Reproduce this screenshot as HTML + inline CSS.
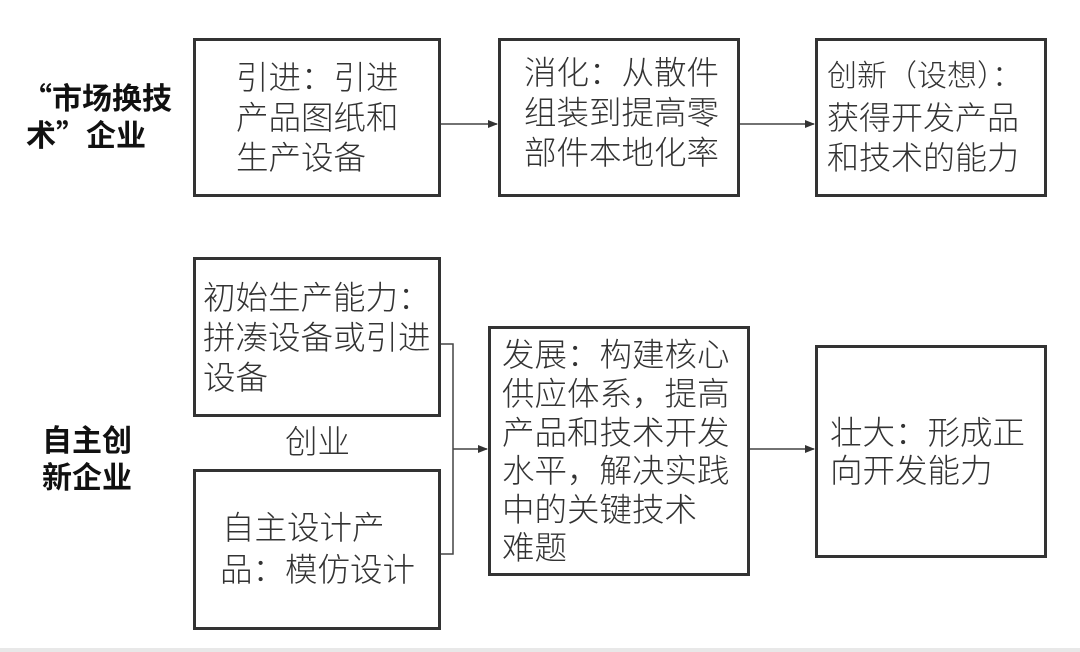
<!DOCTYPE html>
<html><head><meta charset="utf-8"><style>
body{margin:0;width:1080px;height:652px;background:#fff;position:relative;overflow:hidden;font-family:"Liberation Sans","Noto Sans CJK SC",sans-serif;}
.b{position:absolute;border:3px solid #333;box-sizing:border-box;}
.t{position:absolute;white-space:nowrap;font-size:32.5px;line-height:40px;color:#333;font-weight:300;}
.l{position:absolute;white-space:nowrap;font-size:30px;line-height:38px;color:#111;font-weight:bold;font-family:"Noto Sans CJK SC",sans-serif;}
.strip{position:absolute;left:0;top:648px;width:1080px;height:4px;background:#e8e8e8;}
</style></head><body>
<div class="b" style="left:193px;top:38px;width:248px;height:159px"></div>
<div class="b" style="left:498px;top:38px;width:242px;height:159px"></div>
<div class="b" style="left:815px;top:38px;width:232px;height:159px"></div>
<div class="b" style="left:193px;top:257px;width:248px;height:160px"></div>
<div class="b" style="left:193px;top:469px;width:248px;height:161px"></div>
<div class="b" style="left:488px;top:326px;width:262px;height:250px"></div>
<div class="b" style="left:815px;top:345px;width:232px;height:213px"></div>

<svg style="position:absolute;left:0;top:0" width="1080" height="652">
<defs><marker id="a" markerWidth="10" markerHeight="8" refX="9" refY="4" orient="auto" markerUnits="userSpaceOnUse"><path d="M0,0 L10,4 L0,8 z" fill="#333"/></marker></defs>
<g stroke="#444" stroke-width="1.5" fill="none">
<line x1="441" y1="124" x2="497" y2="124" marker-end="url(#a)"/>
<line x1="740" y1="124" x2="814" y2="124" marker-end="url(#a)"/>
<polyline points="441,344 453,344 453,554 441,554"/>
<line x1="453" y1="449" x2="487" y2="449" marker-end="url(#a)"/>
<line x1="750" y1="449" x2="814" y2="449" marker-end="url(#a)"/>
</g></svg>

<div class="l" style="left:22px;top:77px">“市场换技</div>
<div class="l" style="left:26px;top:114px">术”企业</div>
<div class="l" style="left:42px;top:419px">自主创</div>
<div class="l" style="left:42px;top:456px">新企业</div>

<div class="t" style="left:236px;top:58px">引进：引进</div>
<div class="t" style="left:236px;top:98px">产品图纸和</div>
<div class="t" style="left:236px;top:138px">生产设备</div>

<div class="t" style="left:524px;top:53px">消化：从散件</div>
<div class="t" style="left:524px;top:93px">组装到提高零</div>
<div class="t" style="left:524px;top:133px">部件本地化率</div>

<div class="t" style="left:827px;top:57px;font-size:30px">创新（设想）：</div>
<div class="t" style="left:827px;top:98px;font-size:32px">获得开发产品</div>
<div class="t" style="left:827px;top:138px;font-size:32px">和技术的能力</div>

<div class="t" style="left:203px;top:278px">初始生产能力：</div>
<div class="t" style="left:203px;top:318px">拼凑设备或引进</div>
<div class="t" style="left:203px;top:358px">设备</div>

<div class="t" style="left:285px;top:422px">创业</div>

<div class="t" style="left:222px;top:508px">自主设计产</div>
<div class="t" style="left:220px;top:550px">品：模仿设计</div>

<div class="t" style="left:502px;top:335px">发展：构建核心</div>
<div class="t" style="left:502px;top:374px">供应体系，提高</div>
<div class="t" style="left:502px;top:413px">产品和技术开发</div>
<div class="t" style="left:502px;top:451px">水平，解决实践</div>
<div class="t" style="left:502px;top:490px">中的关键技术</div>
<div class="t" style="left:502px;top:528px">难题</div>

<div class="t" style="left:830px;top:413px">壮大：形成正</div>
<div class="t" style="left:830px;top:451px">向开发能力</div>

<div class="strip"></div>
</body></html>
